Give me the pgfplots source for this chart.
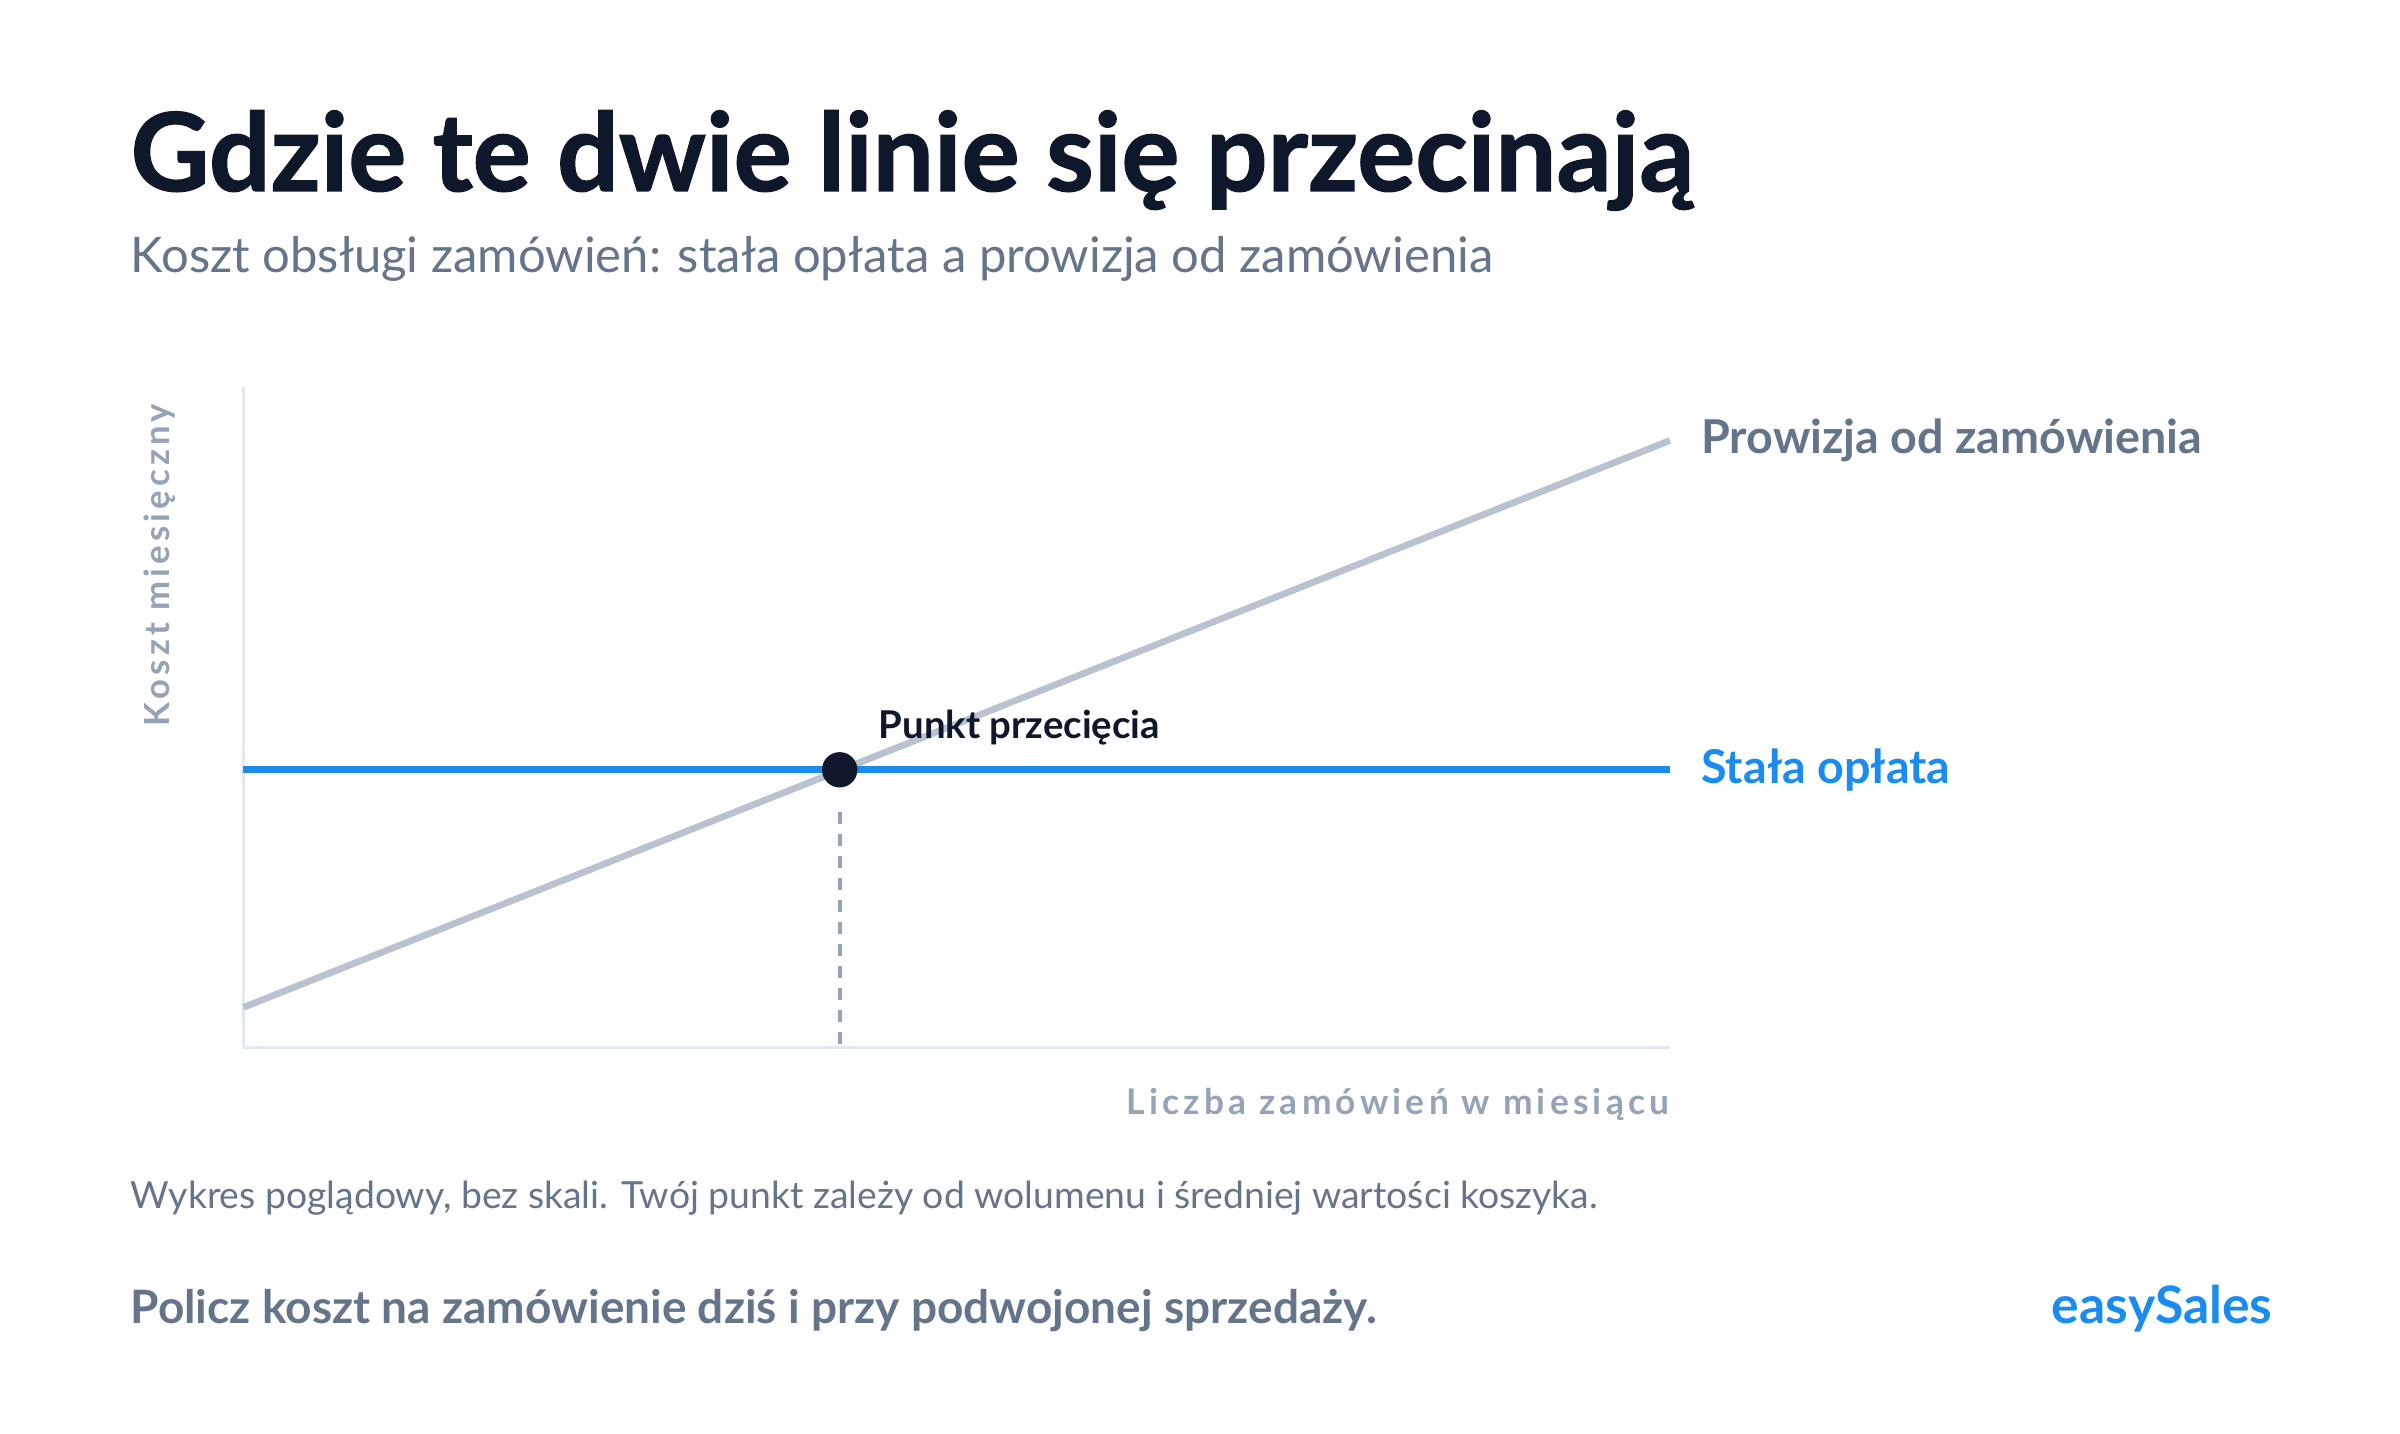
\documentclass[border=0pt]{standalone}
\usepackage{fontspec}
\setmainfont{Lato}
\usepackage{pgfplots}
\pgfplotsset{compat=1.18}

\definecolor{ink}{HTML}{0F172A}
\definecolor{slate}{HTML}{64748B}
\definecolor{muted}{HTML}{94A3B8}
\definecolor{axisgrey}{HTML}{E2E8F0}
\definecolor{linegrey}{HTML}{B8C2D1}
\definecolor{brand}{HTML}{1A8CF0}

\begin{document}
\begin{tikzpicture}
% page: 2400 x 1434 px, 1 px = 0.3pt
\fill[white] (0,0) rectangle (720pt,-430.2pt);

\begin{axis}[
    at={(73.0pt,-314.1pt)}, anchor=origin,
    scale only axis,
    width=428pt, height=198pt,
    xmin=0, xmax=100, ymin=0, ymax=100,
    axis x line=bottom, axis y line=left,
    axis line style={-, axisgrey, line width=0.9pt},
    xtick=\empty, ytick=\empty,
    clip=false,
]
% prowizja od zamowienia
\addplot[linegrey, line width=2pt] coordinates {(0,6.0) (100,91.9)};
% stala oplata
\addplot[brand, line width=2pt] coordinates {(0,42.0) (100,42.0)};
% pionowa linia z punktu przeciecia
\addplot[muted, line width=1.1pt, dash pattern=on 3.6pt off 3pt] coordinates {(41.8,0.5) (41.8,37)};
\addplot[only marks, mark=*, mark size=5.1pt, ink] coordinates {(41.8,42.0)};

\node[anchor=west, inner sep=0, text=slate, font=\fontsize{14}{16}\selectfont\bfseries, xshift=9.2pt] at (axis cs:100,91.9) {Prowizja od zamówienia};
\node[anchor=west, inner sep=0, text=brand, font=\fontsize{14}{16}\selectfont\bfseries, xshift=9.2pt] at (axis cs:100,42.0) {Stała opłata};
\node[anchor=base west, inner sep=0, text=ink, font=\fontsize{11.5}{13}\selectfont\bfseries] at (axis cs:44.5,46.8) {Punkt przecięcia};
\end{axis}

\begin{scope}[x=0.3pt, y=-0.3pt]
\node[anchor=base west, inner sep=0, text=ink, font=\fontsize{32.6}{36}\selectfont\bfseries\addfontfeatures{FakeBold=1.2}] at (130,191) {Gdzie te dwie linie się przecinają};
\node[anchor=base west, inner sep=0, text=slate, font=\fontsize{14.7}{17}\selectfont] at (130,273) {Koszt obsługi zamówień: stała opłata a prowizja od zamówienia};
\node[rotate=90, inner sep=0, text=muted, font=\fontsize{10.4}{12}\selectfont\bfseries\addfontfeatures{LetterSpace=12}] at (160,565) {Koszt miesięczny};
\node[anchor=base east, inner sep=0, text=muted, font=\fontsize{10.6}{12}\selectfont\bfseries\addfontfeatures{LetterSpace=12}] at (1670,1114) {Liczba zamówień w miesiącu};
\node[anchor=base west, inner sep=0, text=slate, font=\fontsize{11.2}{14}\selectfont] at (130,1208) {Wykres poglądowy, bez skali. Twój punkt zależy od wolumenu i średniej wartości koszyka.};
\node[anchor=base west, inner sep=0, text=slate, font=\fontsize{13.8}{17}\selectfont\bfseries] at (130,1323) {Policz koszt na zamówienie dziś i przy podwojonej sprzedaży.};
\node[anchor=base east, inner sep=0, text=brand, font=\fontsize{15.5}{18}\selectfont\bfseries] at (2273,1323) {easySales};
\end{scope}
\end{tikzpicture}
\end{document}
